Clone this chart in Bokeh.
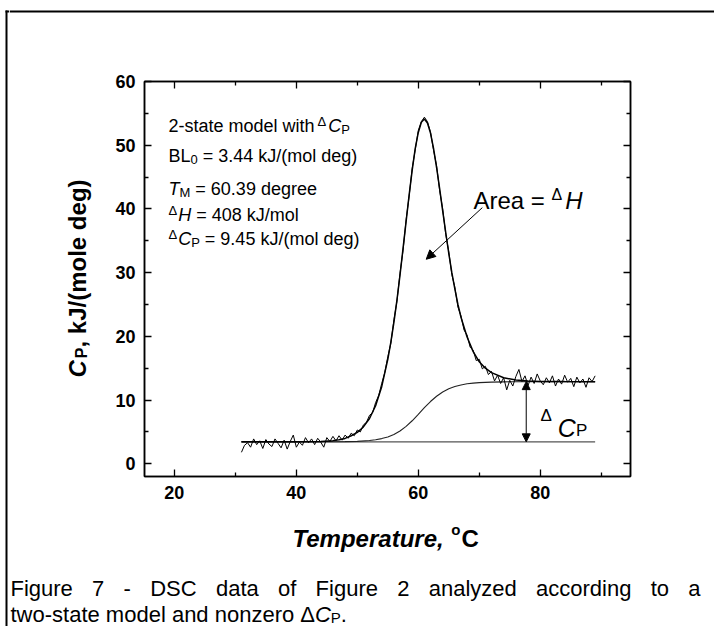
import math
from bokeh.plotting import figure
from bokeh.layouts import column, row
from bokeh.models import (Label, Arrow, NormalHead, LinearAxis, Range1d, FixedTicker,
                          CustomJSTickFormatter)
from bokeh.embed import file_html
from bokeh.resources import INLINE

# ---------------- data ----------------
temp_data = [31.0, 31.5, 32.0, 32.5, 33.0, 33.5, 34.0, 34.5, 35.0, 35.5, 36.0, 36.5, 37.0, 37.5,
             38.0, 38.5, 39.0, 39.5, 40.0, 40.5, 41.0, 41.5, 42.0, 42.5, 43.0, 43.5, 44.0, 44.5,
             45.0, 45.5, 46.0, 46.5, 47.0, 47.5, 48.0, 48.5, 49.0, 49.5, 50.0, 50.5, 51.0, 51.5,
             52.0, 52.5, 53.0, 53.5, 54.0, 54.5, 55.0, 55.5, 56.0, 56.5, 57.0, 57.5, 58.0, 58.5,
             59.0, 59.5, 60.0, 60.5, 61.0, 61.5, 62.0, 62.5, 63.0, 63.5, 64.0, 64.5, 65.0, 65.5,
             66.0, 66.5, 67.0, 67.5, 68.0, 68.5, 69.0, 69.5, 70.0, 70.5, 71.0, 71.5, 72.0, 72.5,
             73.0, 73.5, 74.0, 74.5, 75.0, 75.5, 76.0, 76.5, 77.0, 77.5, 78.0, 78.5, 79.0, 79.5,
             80.0, 80.5, 81.0, 81.5, 82.0, 82.5, 83.0, 83.5, 84.0, 84.5, 85.0, 85.5, 86.0, 86.5,
             87.0, 87.5, 88.0, 88.5, 89.0]
cp_data = [1.8, 2.9, 3.3, 2.6, 3.9, 3.0, 3.6, 2.4, 3.8, 3.1, 2.7, 3.9, 3.2, 2.5,
           3.7, 2.3, 3.5, 4.5, 2.6, 3.4, 2.9, 4.1, 3.3, 3.9, 3.0, 4.0, 3.4, 2.6,
           4.1, 3.5, 4.3, 3.6, 4.4, 3.7, 4.5, 4.0, 4.8, 4.4, 5.3, 5.0, 6.1, 6.5,
           7.6, 8.0, 9.6, 10.7, 12.6, 14.3, 16.8, 18.9, 22.6, 25.5, 29.9, 33.5, 38.3, 42.0,
           46.4, 49.3, 52.3, 53.7, 54.4, 53.7, 52.1, 49.2, 46.8, 42.9, 40.0, 36.0, 33.3, 29.7,
           27.7, 24.6, 23.2, 21.0, 20.2, 18.3, 17.8, 16.2, 16.4, 14.9, 15.3, 14.0, 14.5, 13.0,
           13.9, 12.6, 13.5, 11.6, 13.1, 12.2, 13.7, 14.8, 12.9, 13.8, 12.3, 13.6, 12.6, 14.1,
           13.0, 12.4, 13.5, 12.7, 13.8, 12.2, 13.3, 12.5, 13.9, 12.8, 13.4, 12.1, 13.6, 12.7,
           13.3, 12.0, 13.5, 12.9, 13.8]

temp_fit = [31, 36, 40, 44, 46, 47, 48, 49, 50, 51, 52, 53, 54, 55, 55.5, 56, 56.5, 57, 57.5, 58,
            58.5, 59, 59.5, 60, 60.5, 61, 61.5, 62, 62.5, 63, 63.5, 64, 64.5, 65, 65.5, 66, 66.5,
            67, 68, 69, 70, 71, 72, 74, 76, 78, 80, 84, 89]
cp_fit = [3.44, 3.44, 3.45, 3.50, 3.63, 3.76, 3.98, 4.40, 4.92, 5.78, 7.10, 9.10, 12.10, 16.40,
          19.10, 22.20, 25.70, 29.60, 33.80, 38.00, 42.20, 46.10, 49.50, 52.00, 53.60, 54.10,
          53.50, 51.90, 49.50, 46.50, 43.20, 39.70, 36.30, 33.00, 30.00, 27.40, 25.00, 23.00,
          19.90, 17.60, 16.00, 15.00, 14.30, 13.50, 13.15, 13.00, 12.93, 12.90, 12.89]

temp_sig = [31, 40, 45, 48, 50, 52, 53, 54, 55, 56, 57, 58, 59, 60, 61, 62, 63, 64, 65, 66, 67,
            68, 69, 70, 72, 74, 76, 80, 89]
cp_sig = [3.44, 3.44, 3.45, 3.47, 3.52, 3.65, 3.77, 3.95, 4.21, 4.60, 5.15, 5.87, 6.75, 7.76,
          8.80, 9.77, 10.60, 11.27, 11.77, 12.13, 12.37, 12.55, 12.66, 12.74, 12.82, 12.86,
          12.88, 12.89, 12.89]

base_temp = [31.0, 89.0]
base_cp = [3.44, 3.44]

dcp_arrow_x = 77.7
dcp_arrow_y = [3.44, 12.89]
area_arrow_x = [70.5, 61.3]
area_arrow_y = [40.2, 32.1]

x_major = [20, 40, 60, 80]
x_minor = [30, 50, 70, 90]
y_major = [0, 10, 20, 30, 40, 50, 60]
y_minor = [5, 15, 25, 35, 45, 55]

caption_line1 = ["Figure", "7", "-", "DSC", "data", "of", "Figure", "2", "analyzed",
                 "according", "to", "a"]

# ---------------- layout (page pixels; Bokeh's page has no body margin) ----------------
FONT = "Liberation Sans"
PAGE_W, PAGE_H = 714, 626
EDGE_X = 9                   # width of the strip that carries the left border
TOP_Y1 = 16                  # thin top strip bottom
MID_Y1 = 512                 # middle row bottom
SPLIT_X = 96                 # y-label strip | main plot
FL, FR, FT, FB = 144, 630, 81, 476     # plot frame in page pixels
X0, X1, Y0, Y1 = 15.1, 94.8, -2.0, 60.0
BORDER_X, BORDER_Y = 6.0, 11.0


def xd(px):
    return X0 + (px - FL) * (X1 - X0) / (FR - FL)


def yd(py):
    return Y1 - (py - FT) * (Y1 - Y0) / (FB - FT)


REG = dict(zip("abcdefghijklmnopqrstuvwxyz",
               [556, 556, 500, 556, 556, 278, 556, 556, 222, 222, 500, 222, 833, 556, 556, 556,
                556, 333, 500, 278, 556, 500, 722, 500, 500, 500]))
REG.update(zip("ABCDEFGHIJKLMNOPQRSTUVWXYZ",
               [667, 667, 722, 722, 667, 611, 778, 722, 278, 500, 667, 556, 833, 722, 778, 667,
                778, 722, 667, 611, 722, 667, 944, 667, 667, 611]))
REG.update({c: 556 for c in "0123456789"})
REG.update({" ": 278, "-": 333, ".": 278, ",": 278, "=": 584, "(": 333, ")": 333, "/": 278,
            "Δ": 667, "°": 400})
BOLD = dict(zip("abcdefghijklmnopqrstuvwxyz",
                [556, 611, 556, 611, 556, 333, 611, 611, 278, 278, 556, 278, 889, 611, 611, 611,
                 611, 389, 556, 333, 611, 556, 778, 556, 556, 500]))
BOLD.update(zip("ABCDEFGHIJKLMNOPQRSTUVWXYZ",
                [722, 722, 722, 722, 667, 611, 778, 722, 278, 556, 722, 611, 833, 722, 778, 667,
                 778, 722, 667, 611, 722, 667, 944, 667, 667, 611]))
BOLD.update({c: 556 for c in "0123456789"})
BOLD.update({" ": 278, "-": 333, ".": 278, ",": 278, "=": 584, "(": 333, ")": 333, "/": 278,
             "Δ": 667, "°": 400})


def tw(s, size, bold=False):
    t = BOLD if bold else REG
    return sum(t.get(ch, 556) for ch in s) * size / 1000.0


def blank_fig(x0, x1, y0, y1, fy0=None, fy1=None):
    """Helper panel; data coordinates are page pixels (y downwards).
    fy0/fy1 give the frame's vertical extent when it differs from the canvas."""
    fy0 = y0 if fy0 is None else fy0
    fy1 = y1 if fy1 is None else fy1
    f = figure(width=int(x1 - x0), height=int(y1 - y0),
               x_range=Range1d(x0, x1), y_range=Range1d(fy1, fy0),
               output_backend="svg", toolbar_location=None,
               x_axis_location=None, y_axis_location=None,
               min_border=0, min_border_left=0, min_border_right=0,
               min_border_top=int(fy0 - y0), min_border_bottom=int(y1 - fy1))
    f.outline_line_color = None
    f.background_fill_color = "white"
    f.border_fill_color = "white"
    f.xgrid.visible = False
    f.ygrid.visible = False
    return f


# ---------------- main plot ----------------
p = figure(width=PAGE_W - SPLIT_X, height=MID_Y1 - TOP_Y1,
           x_range=Range1d(X0, X1), y_range=Range1d(Y0, Y1),
           output_backend="svg", toolbar_location=None,
           min_border_left=FL - SPLIT_X, min_border_right=PAGE_W - FR,
           min_border_top=FT - TOP_Y1, min_border_bottom=MID_Y1 - FB)
p.background_fill_color = "white"
p.border_fill_color = "white"
p.outline_line_color = "black"
p.outline_line_width = 1.5
p.xgrid.visible = False
p.ygrid.visible = False


def style_axis(ax, ticks, minor, labels=True):
    ax.ticker = FixedTicker(ticks=ticks, minor_ticks=minor)
    ax.axis_line_color = "black"
    ax.axis_line_width = 1.5
    ax.major_tick_in = 7
    ax.major_tick_out = 0
    ax.minor_tick_in = 4
    ax.minor_tick_out = 0
    ax.major_tick_line_width = 1.3
    ax.minor_tick_line_width = 1.3
    ax.major_tick_line_color = "black"
    ax.minor_tick_line_color = "black"
    ax.major_label_text_font = FONT
    ax.major_label_text_font_size = "18px"
    ax.major_label_text_font_style = "bold"
    ax.major_label_text_color = "black"
    ax.major_label_standoff = 9
    if not labels:
        ax.formatter = CustomJSTickFormatter(code="return ''")


style_axis(p.xaxis[0], x_major, x_minor)
style_axis(p.yaxis[0], y_major, y_minor)
top_ax = LinearAxis()
style_axis(top_ax, x_major, x_minor, labels=False)
p.add_layout(top_ax, "above")
right_ax = LinearAxis()
style_axis(right_ax, y_major, y_minor, labels=False)
p.add_layout(right_ax, "right")

p.line(base_temp, base_cp, line_color="#555555", line_width=1.2)
p.line(temp_sig, cp_sig, line_color="#222222", line_width=1.1)
p.line(temp_data, cp_data, line_color="black", line_width=1)
p.line(temp_fit, cp_fit, line_color="black", line_width=1.5)

p.add_layout(Arrow(start=NormalHead(size=8, fill_color="black", line_color="black"),
                   end=NormalHead(size=8, fill_color="black", line_color="black"),
                   x_start=dcp_arrow_x, y_start=dcp_arrow_y[0],
                   x_end=dcp_arrow_x, y_end=dcp_arrow_y[1],
                   line_color="black", line_width=1))
p.add_layout(Arrow(end=NormalHead(size=9, fill_color="black", line_color="black"),
                   x_start=area_arrow_x[0], y_start=area_arrow_y[0],
                   x_end=area_arrow_x[1], y_end=area_arrow_y[1],
                   line_color="black", line_width=1))


# ---------------- text runs ----------------
def runs(fig, px, py, parts, vertical=False, mapped=False):
    pos = 0.0
    for text, size, style, dy, pre in parts:
        pos += pre
        bold = "bold" in style
        stripped = text.lstrip(" ")
        pos += tw(text[:len(text) - len(stripped)], size, bold)
        if vertical:
            x, y, ang = px - dy, py - pos, math.pi / 2
        else:
            x, y, ang = px + pos, py - dy, 0
        if mapped:
            x, y = xd(x), yd(y)
        fig.add_layout(Label(x=x, y=y, text=stripped, text_font=FONT,
                             text_font_size=f"{size}px", text_font_style=style,
                             text_color="black", text_align="left",
                             text_baseline="alphabetic", angle=ang))
        pos += tw(stripped, size, bold)


N, I, B, BI = "normal", "italic", "bold", "bold italic"
AX = 168
runs(p, AX, 125, [("2-state model with", 18, N, 0, 0), ("Δ", 13, N, 4, 3),
                  ("C", 18, I, 0, 2), ("P", 13, N, -4, 0)], mapped=True)
runs(p, AX, 155, [("BL", 18, N, 0, 0), ("0", 13, N, -4, 0),
                  (" = 3.44 kJ/(mol deg)", 18, N, 0, 0)], mapped=True)
runs(p, AX, 188, [("T", 18, I, 0, 0), ("M", 13, N, -4, 0),
                  (" = 60.39 degree", 18, N, 0, 0)], mapped=True)
runs(p, AX, 214, [("Δ", 13, N, 4, 0), ("H", 18, I, 0, 1),
                  (" = 408 kJ/mol", 18, N, 0, 0)], mapped=True)
runs(p, AX, 238, [("Δ", 13, N, 4, 0), ("C", 18, I, 0, 1), ("P", 13, N, -4, 0),
                  (" = 9.45 kJ/(mol deg)", 18, N, 0, 0)], mapped=True)
runs(p, 473, 200, [("Area = ", 24, N, 0, 0), ("Δ", 16, N, 6, 0), ("H", 24, I, 0, 3)],
     mapped=True)
runs(p, 540, 427, [("Δ", 17, N, 12, 0), ("C", 25, I, 0, 6), ("P", 17, N, -3, 0)],
     mapped=True)

# ---------------- surrounding panels ----------------
edge = blank_fig(0, EDGE_X, 0, PAGE_H)
edge.line([BORDER_X, BORDER_X], [BORDER_Y - 1, PAGE_H], line_color="black", line_width=2)
edge.line([BORDER_X - 1, EDGE_X], [BORDER_Y, BORDER_Y], line_color="black", line_width=2)

top_strip = blank_fig(EDGE_X, PAGE_W, 0, TOP_Y1)
top_strip.line([EDGE_X, PAGE_W], [BORDER_Y, BORDER_Y], line_color="black", line_width=2)

ylab = blank_fig(EDGE_X, SPLIT_X, TOP_Y1, MID_Y1, FT, FB)
runs(ylab, 77, 377, [("C", 24, BI, 0, 0), ("P", 16, B, -4, 2),
                     (", kJ/(mole deg)", 24, B, 0, 0)], vertical=True)

bottom = blank_fig(EDGE_X, PAGE_W, MID_Y1, PAGE_H)
runs(bottom, 292, 538, [("Temperature, ", 24, BI, 0, 0), ("o", 15, B, 9, 0), ("C", 24, B, 0, 1)])

CAP = 22
cap_left, cap_right = 10, 700
word_w = [tw(w_, CAP) for w_ in caption_line1]
gap = (cap_right - cap_left - sum(word_w)) / (len(caption_line1) - 1)
cx = cap_left
for w_, ww in zip(caption_line1, word_w):
    runs(bottom, cx, 588, [(w_, CAP, N, 0, 0)])
    cx += ww + gap
runs(bottom, 10, 614, [("two-state model and nonzero Δ", CAP, N, 0, 0), ("C", CAP, I, 0, 0),
                       ("P", 15, N, -3, 0), (".", CAP, N, 0, 0)])

inner = column(top_strip, row(ylab, p, spacing=0), bottom, spacing=0)
layout = row(edge, inner, spacing=0)
open("out.html", "w").write(file_html(layout, INLINE))
